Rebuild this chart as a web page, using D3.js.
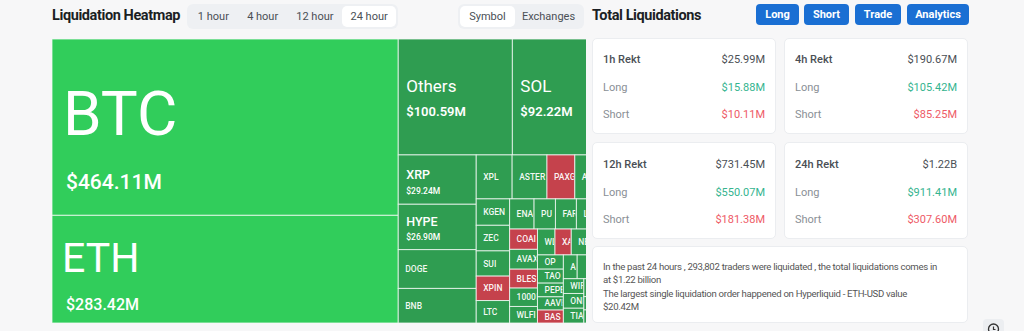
<!DOCTYPE html>
<html><head><meta charset="utf-8">
<script src="https://cdn.jsdelivr.net/npm/d3@7/dist/d3.min.js"></script>
<style>
*{box-sizing:border-box;}
html,body{margin:0;padding:0;}
body{width:1024px;height:331px;overflow:hidden;background:#f7f7f8;font-family:Roboto,"Noto Sans",Arial,sans-serif;position:relative;}
.a{position:absolute;}
.title{font-weight:700;font-size:14.5px;color:#1b1f24;letter-spacing:-0.4px;line-height:18px;white-space:nowrap;}
.seg{background:#eef0f3;border-radius:6px;display:flex;padding:2px;}
.tab{font-size:11px;color:#4a4f55;line-height:21px;text-align:center;white-space:nowrap;}
.tab.on{background:#fff;border-radius:5px;}
.btn{background:#1a6fd3;border-radius:4px;color:#fff;font-weight:700;font-size:11px;text-align:center;line-height:21px;}
.card{background:#fff;border:1px solid #ebedf0;border-radius:5px;}
.row{font-size:11px;line-height:14px;white-space:nowrap;}
.info{font-size:9.6px;color:#555;line-height:13.3px;white-space:nowrap;letter-spacing:-0.3px;}
</style></head>
<body>
<script>
// ---------- data ----------
const symbols = ["BTC","ETH","Others","SOL","XRP","HYPE","DOGE","BNB",
  "XPL","ASTER","PAXG","ALPACA","ZORA",
  "KGEN","ZEC","SUI","XPIN","LTC",
  "ENA","PUMP","FARTCOIN","LINK","ADA",
  "COAI","AVAX","BLESS","1000PEPE","WLFI",
  "WLD","XAN","NEAR","TRUMP","ZK",
  "OP","TAO","PEPE","AAVE","BAS",
  "AI","ARB","TON","BCH",
  "WIF","ONDO","TIA","APT","SEI","INJ","CRV","UNI"];
const liquidations = [464.11,283.42,100.59,92.22,29.24,26.90,23.0,20.5,
  12.0,11.65,9.3,7.1,7.0,
  6.7,6.5,6.4,6.2,5.7,
  5.6,4.9,4.8,4.7,4.6,
  4.3,4.2,4.0,3.9,3.5,
  3.45,3.2,3.1,3.0,2.9,
  2.8,2.75,2.7,2.6,2.55,
  2.5,2.45,2.4,2.35,
  2.3,2.3,2.3,2.25,2.25,2.25,2.2,2.2];
const strongSymbols = ["BTC","ETH"];
const shortSymbols = ["PAXG","COAI","XAN","XPIN","BLESS","BAS"];

const timeTabs = ["1 hour","4 hour","12 hour","24 hour"];
const viewTabs = ["Symbol","Exchanges"];
const actionButtons = ["Long","Short","Trade","Analytics"];

const periods = ["1h Rekt","4h Rekt","12h Rekt","24h Rekt"];
const totals = ["$25.99M","$190.67M","$731.45M","$1.22B"];
const longs = ["$15.88M","$105.42M","$550.07M","$911.41M"];
const shorts = ["$10.11M","$85.25M","$181.38M","$307.60M"];

const infoLines = [
  "In the past 24 hours , 293,802 traders were liquidated , the total liquidations comes in",
  "at $1.22 billion",
  "The largest single liquidation order happened on Hyperliquid - ETH-USD value",
  "$20.42M"
];

// ---------- header ----------
const body = d3.select("body");
body.append("div").attr("class","a title").style("left","52px").style("top","7px").text("Liquidation Heatmap");

const tabWidths = [49,50,55,54];
const seg1 = body.append("div").attr("class","a seg").style("left","187px").style("top","4px").style("width","211px").style("height","25px");
seg1.selectAll("div").data(timeTabs).join("div")
  .attr("class",(d,i)=>"tab"+(i===3?" on":""))
  .style("width",(d,i)=>tabWidths[i]+"px").text(d=>d);

const viewWidths = [55,67];
const seg2 = body.append("div").attr("class","a seg").style("left","458px").style("top","4px").style("width","126px").style("height","25px");
seg2.selectAll("div").data(viewTabs).join("div")
  .attr("class",(d,i)=>"tab"+(i===0?" on":""))
  .style("width",(d,i)=>viewWidths[i]+"px").text(d=>d);

body.append("div").attr("class","a title").style("left","592px").style("top","7px").text("Total Liquidations");

const btnX = [756,804,855,907], btnW = [43,45,46,62];
body.selectAll("div.btn").data(actionButtons).join("div")
  .attr("class","a btn")
  .style("left",(d,i)=>btnX[i]+"px").style("top","4px")
  .style("width",(d,i)=>btnW[i]+"px").style("height","21px").text(d=>d);

// ---------- cards ----------
periods.forEach((p,i)=>{
  const x = i%2 ? 784 : 592, y = i<2 ? 38 : 142;
  const c = body.append("div").attr("class","a card").style("left",x+"px").style("top",y+"px")
    .style("width","184px").style("height",(i<2?96:97)+"px");
  const rows = [[p,totals[i],"#4a4f55","#4a4f55",500],["Long",longs[i],"#8a8f96","#35b48f",400],["Short",shorts[i],"#8a8f96","#ee5a66",400]];
  const cy = i<2 ? [21,49,76] : [22,50,77];
  rows.forEach((r,j)=>{
    c.append("div").attr("class","a row").style("left","10px").style("top",(cy[j]-7)+"px")
      .style("color",r[2]).style("font-weight",r[4]).text(r[0]);
    c.append("div").attr("class","a row").style("right","10px").style("top",(cy[j]-7)+"px")
      .style("color",r[3]).style("text-align","right").text(r[1]);
  });
});
const info = body.append("div").attr("class","a card").style("left","592px").style("top","246px").style("width","376px").style("height","77px");
info.selectAll("div").data(infoLines).join("div").attr("class","a info")
  .style("left","10px").style("top",(d,i)=>(13+i*13.3)+"px").text(d=>d);

// small clock icon bottom-right
const ic = body.append("div").attr("class","a").style("left","983px").style("top","319px")
  .style("width","21px").style("height","16px").style("background","#eceef1").style("border-radius","4px");
const isv = ic.append("svg").attr("width",21).attr("height",16);
isv.append("circle").attr("cx",10.5).attr("cy",10).attr("r",5).attr("fill","none").attr("stroke","#333").attr("stroke-width",1.3);
isv.append("path").attr("d","M10.5 7.5 V10.5 H12.5").attr("fill","none").attr("stroke","#333").attr("stroke-width",1.2);

// ---------- treemap ----------
const TW = 565, TH = 284, VIEW_W = 534;
const rootData = {name:"root", children: symbols.map((s,i)=>({name:s, value:liquidations[i]}))};
const root = d3.hierarchy(rootData).sum(d=>d.value||0).sort((a,b)=>b.value-a.value);
d3.treemap().size([TW,TH]).tile(d3.treemapSquarify)(root);

const tone = s => strongSymbols.includes(s) ? "strong" : shortSymbols.includes(s) ? "short" : "long";
const color = d3.scaleOrdinal().domain(["strong","long","short"]).range(["#31cd5b","#2f9d51","#c5424c"]);
const fmt = v => "$" + d3.format(".2f")(v) + "M";

const tierOf = d3.scaleThreshold().domain([25,50,200,400]).range([4,3,2,1,0]);
const tiers = [
  {ns:62, vs:21, nw:400, vw:500, nx:11, vx:14, ny:0.545, vy:0.85},
  {ns:41, vs:16, nw:400, vw:500, nx:10, vx:14, ny:0.53, vy:0.88},
  {ns:17, vs:13, nw:400, vw:600, nx:8, vx:8, ny:0.46, vy:0.66},
  {ns:12.5, vs:8.5, nw:500, vw:500, nx:8, vx:8, ny:0.48, vy:0.79},
  {ns:8.5, nw:500, nx:7}
];

const svg = body.append("svg").attr("class","a").style("left","52px").style("top","39px")
  .attr("width",VIEW_W).attr("height",TH).style("overflow","hidden")
  .style("font-family","Roboto, 'Noto Sans', sans-serif");

const leaves = root.leaves();
const defs = svg.append("defs");
defs.selectAll("clipPath").data(leaves).join("clipPath").attr("id",(d,i)=>"c"+i)
  .append("rect").attr("x",d=>d.x0).attr("y",d=>d.y0)
  .attr("width",d=>Math.max(0,d.x1-d.x0-1)).attr("height",d=>d.y1-d.y0);

const g = svg.selectAll("g.tile").data(leaves).join("g").attr("class","tile");
g.append("rect").attr("x",d=>d.x0).attr("y",d=>d.y0)
  .attr("width",d=>d.x1-d.x0).attr("height",d=>d.y1-d.y0)
  .attr("fill",d=>color(tone(d.data.name)))
  .attr("stroke","rgba(255,255,255,0.72)").attr("stroke-width",1);

// fit a label into its tile: keep at most one partially visible glyph (clipped by the tile)
function fit(text, limit){
  let s = text.text();
  while (s.length > 1 && text.node().getComputedTextLength() > limit) {
    s = s.slice(0,-1); text.text(s);
  }
}

const lab = g.append("g").attr("clip-path",(d,i)=>`url(#c${i})`).attr("fill","#fff");
lab.each(function(d){
  const t = tiers[tierOf(d.value)], sel = d3.select(this), h = d.y1-d.y0;
  const right = Math.min(d.x1, VIEW_W);
  if (d.x0 + t.nx >= VIEW_W - 2) return; // tile hidden behind the panel edge
  if (t.vs) {
    sel.append("text").attr("x",d.x0+t.nx).attr("y",d.y0+h*t.ny)
      .attr("font-size",t.ns).attr("font-weight",t.nw).text(d.data.name);
    sel.append("text").attr("x",d.x0+t.vx).attr("y",d.y0+h*t.vy)
      .attr("font-size",t.vs).attr("font-weight",t.vw).text(fmt(d.value));
  } else {
    const tx = sel.append("text").attr("x",d.x0+t.nx).attr("y",d.y0+h/2+3)
      .attr("font-size",t.ns).attr("font-weight",t.nw).attr("fill-opacity",0.95).text(d.data.name);
    fit(tx, right - d.x0 - t.nx + 4);
  }
});
</script>
</body></html>
